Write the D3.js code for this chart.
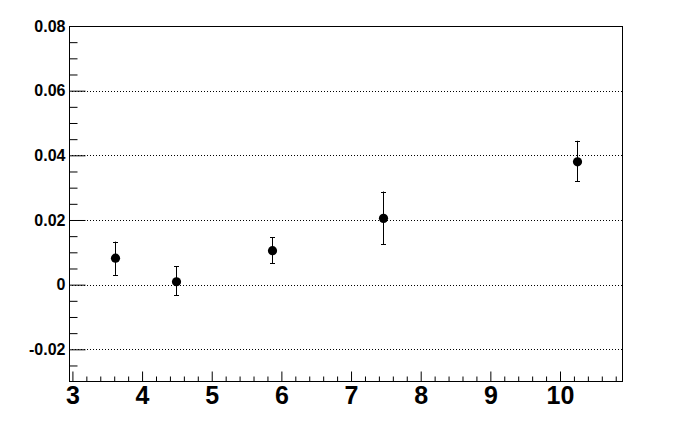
<!DOCTYPE html>
<html>
<head>
<meta charset="utf-8">
<script src="https://cdn.jsdelivr.net/npm/d3@7"></script>
<style>
  body { margin: 0; background: #fff; }
  text { font-family: "Liberation Sans", Arial, sans-serif; font-weight: bold; }
</style>
</head>
<body>
<svg id="chart" width="692" height="444"></svg>
<script>
// data
const xValues = [3.618, 4.489, 5.868, 7.463, 10.241];
const yValues = [0.0082, 0.0009, 0.0105, 0.0205, 0.0380];
const errHigh = [0.0133, 0.0057, 0.0147, 0.0288, 0.0445];
const errLow = [0.0030, -0.0033, 0.0066, 0.0125, 0.0320];
const xTicks = [3, 4, 5, 6, 7, 8, 9, 10];
const yTicks = [-0.02, 0, 0.02, 0.04, 0.06, 0.08];

const margin = { top: 26, right: 70, bottom: 63, left: 69 };
const width = 692 - margin.left - margin.right;
const height = 444 - margin.top - margin.bottom;

const svg = d3.select("#chart");
const g = svg.append("g")
  .attr("transform", `translate(${ margin.left }, ${ margin.top })`);

const xScale = d3.scaleLinear().domain([2.951, 10.89]).range([0, width]);
const yScale = d3.scaleLinear().domain([-0.0298, 0.08]).range([height, 0]);

// grid lines (dotted)
g.selectAll(".grid")
  .data(yTicks.filter(d => d < 0.08))
  .enter()
  .append("line")
  .attr("x1", 0)
  .attr("x2", width)
  .attr("y1", d => Math.round(yScale(d)) + 0.5)
  .attr("y2", d => Math.round(yScale(d)) + 0.5)
  .attr("stroke", "#000")
  .attr("stroke-width", 1)
  .attr("stroke-dasharray", "1,2");

// frame
g.append("rect")
  .attr("x", 0.5)
  .attr("y", 0.5)
  .attr("width", width)
  .attr("height", height)
  .attr("fill", "none")
  .attr("stroke", "#000");

// y axis (plain hyphen for the minus sign, like the original)
const yFormat = d => d === 0 ? "0" : (d < 0 ? "-" : "") + Math.abs(d).toFixed(2);
const yMinor = d3.range(-0.025, 0.0801, 0.005).filter(v => !yTicks.some(t => Math.abs(t - v) < 1e-9));
const yAxis = d3.axisRight(yScale)
  .tickValues(yTicks)
  .tickSize(16)
  .tickFormat(yFormat);
const yAxisG = g.append("g").attr("transform", "translate(0.5,0)").call(yAxis);
yAxisG.select(".domain").remove();
yAxisG.selectAll("text")
  .attr("x", -4)
  .attr("text-anchor", "end")
  .attr("font-size", "16px")
  .attr("fill", "#000");

const yMinorG = g.append("g").attr("transform", "translate(0.5,0)")
  .call(d3.axisRight(yScale).tickValues(yMinor).tickSize(8).tickFormat(""));
yMinorG.select(".domain").remove();

// x axis
const xMinor = d3.range(3, 10.89, 0.2).filter(v => !xTicks.some(t => Math.abs(t - v) < 1e-9));
const xAxis = d3.axisTop(xScale)
  .tickValues(xTicks)
  .tickSize(10)
  .tickFormat(d3.format("d"));
const xAxisG = g.append("g").attr("transform", `translate(0, ${ height + 0.5 })`).call(xAxis);
xAxisG.select(".domain").remove();
xAxisG.selectAll("text")
  .attr("y", 22)
  .attr("dy", 0)
  .attr("font-size", "25px")
  .attr("fill", "#000");

const xMinorG = g.append("g").attr("transform", `translate(0, ${ height + 0.5 })`)
  .call(d3.axisTop(xScale).tickValues(xMinor).tickSize(5).tickFormat(""));
xMinorG.select(".domain").remove();

// error bars
const points = xValues.map((x, i) => ({ x, y: yValues[i], hi: errHigh[i], lo: errLow[i] }));

g.selectAll(".err")
  .data(points)
  .enter()
  .append("line")
  .attr("x1", d => Math.round(xScale(d.x)) + 0.5)
  .attr("x2", d => Math.round(xScale(d.x)) + 0.5)
  .attr("y1", d => yScale(d.hi))
  .attr("y2", d => yScale(d.lo))
  .attr("stroke", "#000");

g.selectAll(".capHi")
  .data(points)
  .enter()
  .append("line")
  .attr("x1", d => Math.round(xScale(d.x)) - 2)
  .attr("x2", d => Math.round(xScale(d.x)) + 3)
  .attr("y1", d => Math.round(yScale(d.hi)) + 0.5)
  .attr("y2", d => Math.round(yScale(d.hi)) + 0.5)
  .attr("stroke", "#000");

g.selectAll(".capLo")
  .data(points)
  .enter()
  .append("line")
  .attr("x1", d => Math.round(xScale(d.x)) - 2)
  .attr("x2", d => Math.round(xScale(d.x)) + 3)
  .attr("y1", d => Math.round(yScale(d.lo)) + 0.5)
  .attr("y2", d => Math.round(yScale(d.lo)) + 0.5)
  .attr("stroke", "#000");

// markers
g.selectAll(".dot")
  .data(points)
  .enter()
  .append("circle")
  .attr("cx", d => Math.round(xScale(d.x)) + 0.5)
  .attr("cy", d => yScale(d.y))
  .attr("r", 4.6)
  .attr("fill", "#000");
</script>
</body>
</html>
